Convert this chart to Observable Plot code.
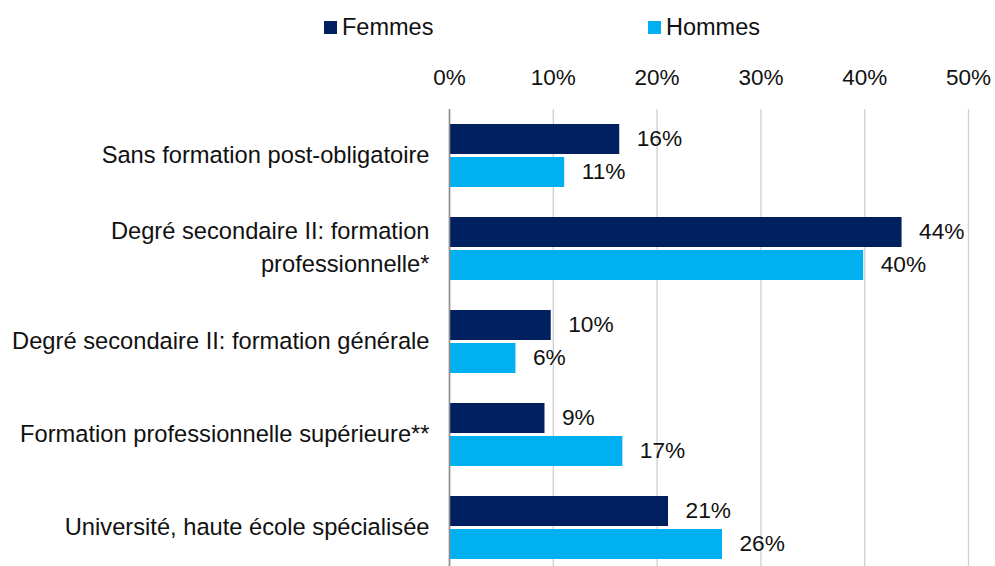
<!DOCTYPE html>
<html>
<head>
<meta charset="utf-8">
<script src="https://cdn.jsdelivr.net/npm/d3@7"></script>
<script src="https://cdn.jsdelivr.net/npm/@observablehq/plot@0.6"></script>
<style>
  html, body { margin: 0; padding: 0; background: #fff; overflow: hidden; }
  body { width: 995px; height: 566px; font-family: "Liberation Sans", Arial, sans-serif; color: #111; }
  #legend { position: relative; height: 55px; font-size: 23.5px; }
  .item { position: absolute; top: 14px; display: flex; align-items: center; }
  .sw { width: 13px; height: 13px; margin-right: 5px; }
</style>
</head>
<body>
<div id="legend"></div>
<div id="chart"></div>
<script>
const categories = [
  "Sans formation post-obligatoire",
  "Degré secondaire II: formation professionnelle*",
  "Degré secondaire II: formation générale",
  "Formation professionnelle supérieure**",
  "Université, haute école spécialisée"
];
const categoryLabels = [
  "Sans formation post-obligatoire",
  "Degré secondaire II: formation\nprofessionnelle*",
  "Degré secondaire II: formation générale",
  "Formation professionnelle supérieure**",
  "Université, haute école spécialisée"
];
const series = ["Femmes", "Hommes"];
const seriesColors = ["#002060", "#00B0F0"];
const femmes = [16.4, 43.6, 9.8, 9.2, 21.1];
const hommes = [11.1, 39.9, 6.4, 16.7, 26.3];
const xTicks = [0, 10, 20, 30, 40, 50];

const labelOf = new Map(categories.map((c, i) => [c, categoryLabels[i]]));
const data = categories.flatMap((c, i) => [
  {cat: c, sex: series[0], v: femmes[i] / 100},
  {cat: c, sex: series[1], v: hommes[i] / 100}
]);

// legend
const legend = document.getElementById("legend");
const legendX = [324, 648];
series.forEach((s, i) => {
  const it = document.createElement("div");
  it.className = "item";
  it.style.left = legendX[i] + "px";
  it.innerHTML = `<span class="sw" style="background:${seriesColors[i]}"></span><span>${s}</span>`;
  legend.appendChild(it);
});

const pct = d3.format(".0%");
const chart = Plot.plot({
  width: 995,
  height: 519,
  marginTop: 54,
  marginBottom: 0,
  marginLeft: 449,
  marginRight: 27,
  style: {fontFamily: "Liberation Sans, Arial, sans-serif", fontSize: "22px", color: "#111", background: "#fff"},
  x: {domain: [0, 0.5], axis: null},
  fy: {domain: categories, padding: 0, axis: null},
  y: {domain: series, paddingInner: 0.09, paddingOuter: 0.43, axis: null},
  color: {domain: series, range: seriesColors},
  marks: [
    Plot.gridX(xTicks.map(d => d / 100), {stroke: "#d0d0d0", strokeOpacity: 1, strokeWidth: 1.3}),
    Plot.axisX(xTicks.map(d => d / 100), {anchor: "top", tickFormat: d => Math.round(d * 100) + "%", tickSize: 0, tickPadding: 25, label: null, fontSize: 22.5}),
    Plot.axisFy({anchor: "left", tickSize: 0, tickPadding: 20, tickFormat: c => labelOf.get(c), label: null, fontSize: 23.7, lineHeight: 1.39, dy: -4}),
    Plot.barX(data, {fy: "cat", y: "sex", x: "v", fill: "sex"}),
    Plot.text(data, {fy: "cat", y: "sex", x: "v", text: d => pct(d.v), textAnchor: "start", dx: 17, dy: -1, fontSize: 22.7, fill: "#111"}),
    Plot.ruleX([0], {stroke: "#8c8c8c", strokeWidth: 1.6})
  ]
});
document.getElementById("chart").appendChild(chart);
</script>
</body>
</html>
